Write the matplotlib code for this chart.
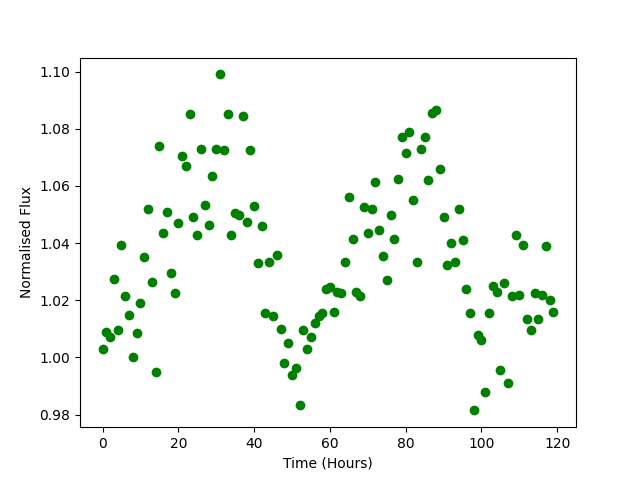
import numpy as np
import matplotlib
matplotlib.use("Agg")
import matplotlib.pyplot as plt

hours = np.arange(120)
flux = [
    1.003, 1.009, 1.007, 1.0275, 1.0097, 1.0395, 1.0215, 1.015, 1.000, 1.0087,
    1.019, 1.035, 1.052, 1.0265, 0.995, 1.074, 1.0435, 1.051, 1.0295, 1.0225,
    1.047, 1.0705, 1.067, 1.085, 1.049, 1.043, 1.073, 1.0535, 1.0465, 1.0635,
    1.073, 1.099, 1.0725, 1.085, 1.043, 1.0505, 1.050, 1.0845, 1.0475, 1.0725,
    1.053, 1.033, 1.046, 1.0155, 1.0335, 1.0145, 1.036, 1.010, 0.998, 1.005,
    0.994, 0.9965, 0.9835, 1.0095, 1.003, 1.007, 1.012, 1.0145, 1.0155, 1.024,
    1.0245, 1.016, 1.023, 1.0225, 1.0335, 1.056, 1.0415, 1.023, 1.0215, 1.0525,
    1.0435, 1.052, 1.0615, 1.0445, 1.0355, 1.027, 1.050, 1.0415, 1.0625, 1.077,
    1.0715, 1.079, 1.055, 1.0335, 1.073, 1.077, 1.062, 1.0855, 1.0865, 1.066,
    1.049, 1.0325, 1.040, 1.0335, 1.052, 1.041, 1.024, 1.0155, 0.9815, 1.008,
    1.006, 0.988, 1.0155, 1.025, 1.023, 0.9955, 1.026, 0.991, 1.0215, 1.043,
    1.022, 1.0395, 1.0135, 1.0095, 1.0225, 1.0135, 1.022, 1.039, 1.020, 1.016,
]

fig, ax = plt.subplots(figsize=(6.4, 4.8), dpi=100)
ax.plot(hours, flux, 'o', color='green')
ax.set_xlabel('Time (Hours)')
ax.set_ylabel('Normalised Flux')

fig.savefig('out.png')
